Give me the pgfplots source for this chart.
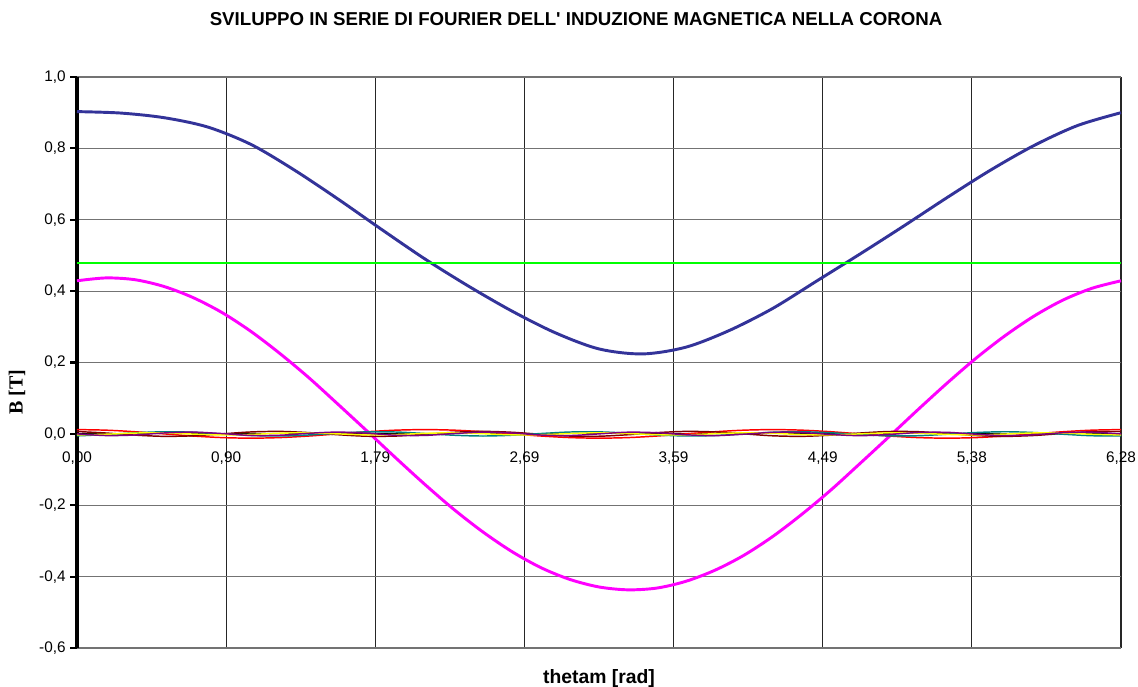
\documentclass[border=0pt]{standalone}
\usepackage{fontspec}
\setmainfont{Liberation Sans}
\newfontfamily\timesfont{Liberation Serif}
\usepackage{pgfplots}
\usepackage{pgfplotstable}
\pgfplotsset{compat=1.18}

\definecolor{bnavy}{HTML}{333399}
\definecolor{bmag}{HTML}{FF00FF}
\definecolor{bgreen}{HTML}{00FF00}
\definecolor{bred}{HTML}{FF0000}
\definecolor{bmaroon}{HTML}{800000}
\definecolor{bteal}{HTML}{008080}
\definecolor{byellow}{HTML}{FFFF00}
\definecolor{bpurple}{HTML}{800080}

% total B
\pgfplotstableread{
x      B
0.0000 0.903
0.2618 0.899
0.5236 0.886
0.7854 0.860
1.0472 0.811
1.3090 0.739
1.5708 0.658
1.8326 0.573
2.0944 0.490
2.3562 0.414
2.6180 0.344
2.8798 0.283
3.1416 0.238
3.4034 0.224
3.6652 0.243
3.9270 0.290
4.1888 0.352
4.4506 0.428
4.7124 0.504
4.9742 0.582
5.2360 0.662
5.4978 0.739
5.7596 0.808
6.0214 0.864
6.2832 0.900
}\tot

% harmonics
\pgfplotstableread{
x       h1     h3      h5a     h5b     h7a     h7b
0.0000  0.429  0.0120  0.0066 -0.0056 -0.0030  0.0000
0.1745  0.437  0.0104  0.0024 -0.0020 -0.0010 -0.0047
0.3491  0.432  0.0060 -0.0035  0.0030  0.0023 -0.0032
0.5236  0.413  0.0000 -0.0069  0.0059  0.0026  0.0025
0.6981  0.382 -0.0060 -0.0054  0.0046 -0.0005  0.0049
0.8727  0.340 -0.0104  0.0000  0.0000 -0.0030  0.0009
1.0472  0.287 -0.0120  0.0054 -0.0046 -0.0015 -0.0043
1.2217  0.225 -0.0104  0.0069 -0.0059  0.0019 -0.0038
1.3963  0.157 -0.0060  0.0035 -0.0030  0.0028  0.0017
1.5708  0.083  0.0000 -0.0024  0.0020  0.0000  0.0050
1.7453  0.008  0.0060 -0.0066  0.0056 -0.0028  0.0017
1.9199 -0.068  0.0104 -0.0061  0.0052 -0.0019 -0.0038
2.0944 -0.142  0.0120 -0.0012  0.0010  0.0015 -0.0043
2.2689 -0.212  0.0104  0.0045 -0.0038  0.0030  0.0009
2.4435 -0.275  0.0060  0.0070 -0.0060  0.0005  0.0049
2.6180 -0.330  0.0000  0.0045 -0.0038 -0.0026  0.0025
2.7925 -0.375 -0.0060 -0.0012  0.0010 -0.0023 -0.0032
2.9671 -0.408 -0.0104 -0.0061  0.0052  0.0010 -0.0047
3.1416 -0.429 -0.0120 -0.0066  0.0056  0.0030  0.0000
3.3161 -0.437 -0.0104 -0.0024  0.0020  0.0010  0.0047
3.4907 -0.432 -0.0060  0.0035 -0.0030 -0.0023  0.0032
3.6652 -0.413  0.0000  0.0069 -0.0059 -0.0026 -0.0025
3.8397 -0.382  0.0060  0.0054 -0.0046  0.0005 -0.0049
4.0143 -0.340  0.0104  0.0000  0.0000  0.0030 -0.0009
4.1888 -0.287  0.0120 -0.0054  0.0046  0.0015  0.0043
4.3633 -0.225  0.0104 -0.0069  0.0059 -0.0019  0.0038
4.5379 -0.157  0.0060 -0.0035  0.0030 -0.0028 -0.0017
4.7124 -0.083  0.0000  0.0024 -0.0020  0.0000 -0.0050
4.8869 -0.008 -0.0060  0.0066 -0.0056  0.0028 -0.0017
5.0615  0.068 -0.0104  0.0061 -0.0052  0.0019  0.0038
5.2360  0.142 -0.0120  0.0012 -0.0010 -0.0015  0.0043
5.4105  0.212 -0.0104 -0.0045  0.0038 -0.0030 -0.0009
5.5851  0.275 -0.0060 -0.0070  0.0060 -0.0005 -0.0049
5.7596  0.330  0.0000 -0.0045  0.0038  0.0026 -0.0025
5.9341  0.375  0.0060  0.0012 -0.0010  0.0023  0.0032
6.1087  0.408  0.0104  0.0061 -0.0052 -0.0010  0.0047
6.2832  0.429  0.0120  0.0066 -0.0056 -0.0030  0.0000
}\harm

\begin{document}
\begin{tikzpicture}
\begin{axis}[
    name=ax,
    scale only axis,
    width=783pt, height=428.25pt,
    xmin=0, xmax=6.2832,
    ymin=-0.6, ymax=1.0,
    axis x line=middle,
    axis y line=left,
    axis line style={-},
    y axis line style={line width=2.4pt},
    x axis line style={line width=0.8pt},
    hide obscured x ticks=false,
    xtick={0,0.8976,1.7952,2.6928,3.5904,4.4880,5.3856,6.2832},
    xticklabels={{0,00},{0,90},{1,79},{2,69},{3,59},{4,49},{5,38},{6,28}},
    xtick style={draw=none},
    xticklabel style={font=\fontsize{11.5}{13}\selectfont, yshift=-5pt},
    ytick={-0.6,-0.4,...,1.0},
    yticklabel style={font=\fontsize{11.5}{13}\selectfont,
        /pgf/number format/.cd, fixed, fixed zerofill, precision=1, use comma, assume math mode=true},
    ytick style={line width=1.6pt, black},
    tick align=outside,
    major tick length=5pt,
    grid=major,
    xmajorgrids, ymajorgrids,
    x grid style={black!85, line width=0.8pt},
    y grid style={black!55, line width=0.8pt},
    title={\bfseries SVILUPPO IN SERIE DI FOURIER DELL\textquotesingle{} INDUZIONE MAGNETICA NELLA CORONA},
    title style={font=\fontsize{14}{16}\selectfont, at={(rel axis cs:0.478,1.077)}, anchor=base},
    xlabel={\bfseries thetam [rad]},
    xlabel style={font=\fontsize{14.5}{16}\selectfont, at={(rel axis cs:0.5,-0.0613)}, anchor=base},
    ylabel={\timesfont\bfseries B [T]},
    ylabel style={font=\fontsize{15}{17}\selectfont, at={(rel axis cs:-0.0575,0.448)}, anchor=center},
    clip=false,
]
\addplot[color=bnavy, line width=2.2pt, smooth] table[x=x, y=B] {\tot};
\addplot[color=bgreen, line width=1.3pt] coordinates {(0,0.478) (6.2832,0.478)};
\addplot[color=bmag, line width=2.2pt, smooth] table[x=x, y=h1] {\harm};
\addplot[color=bred, line width=1.1pt, smooth] table[x=x, y=h3] {\harm};
\addplot[color=bmaroon, line width=1.1pt, smooth] table[x=x, y=h5a] {\harm};
\addplot[color=bteal, line width=1.1pt, smooth] table[x=x, y=h5b] {\harm};
\addplot[color=byellow, line width=1.1pt, smooth] table[x=x, y=h7a] {\harm};
\addplot[color=bpurple, line width=1.1pt, smooth] table[x=x, y=h7b] {\harm};
\end{axis}
\pgfresetboundingbox
\path ([xshift=-57.75pt,yshift=-28.5pt]ax.south west) rectangle ([xshift=12.75pt,yshift=57.75pt]ax.north east);
\end{tikzpicture}
\end{document}
